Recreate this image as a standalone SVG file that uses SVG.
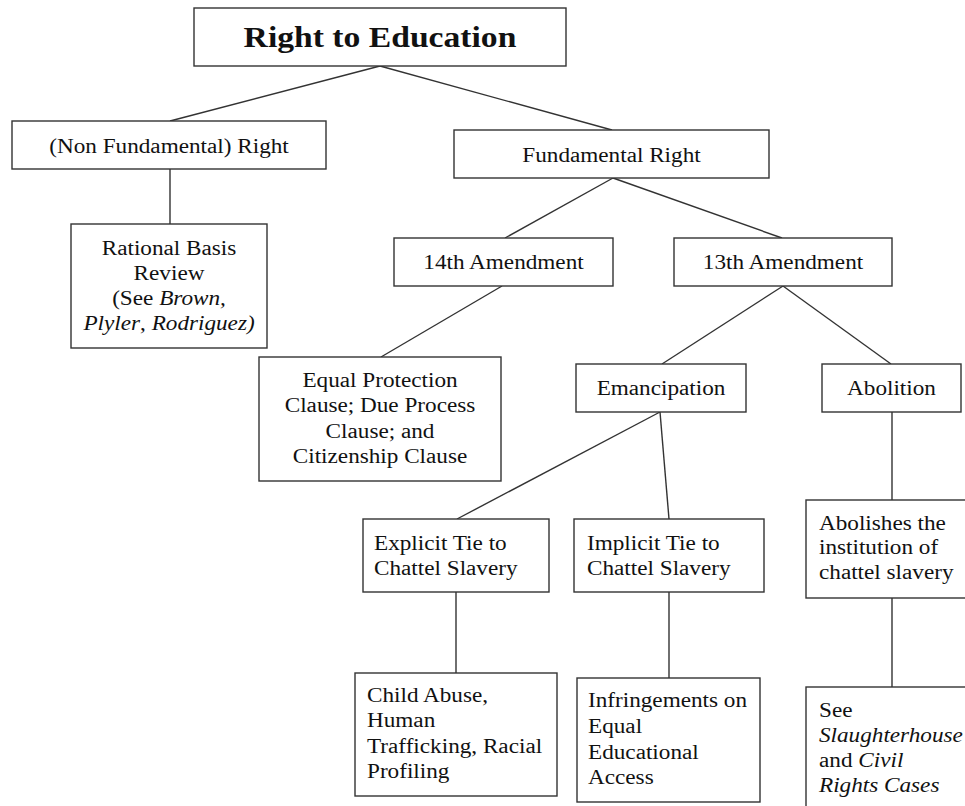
<svg xmlns="http://www.w3.org/2000/svg" width="965" height="806" viewBox="0 0 965 806">
<style>
.box{fill:#fff;stroke:#333;stroke-width:1.4}
.ln{stroke:#333;stroke-width:1.4;fill:none}
text{font-family:"Liberation Serif","Times New Roman",serif;font-size:20px;fill:#111}
.c{text-anchor:middle}
.t{font-size:29px;font-weight:bold}
.i{font-style:italic}
</style>
<rect width="965" height="806" fill="#fff"/>
<g id="connectors">
<line class="ln" x1="380" y1="66" x2="170" y2="121"/>
<line class="ln" x1="380" y1="66" x2="612" y2="130"/>
<line class="ln" x1="170" y1="169" x2="170" y2="224"/>
<line class="ln" x1="613" y1="178" x2="505" y2="238"/>
<line class="ln" x1="613" y1="178" x2="782" y2="238"/>
<line class="ln" x1="502" y1="286" x2="381" y2="357"/>
<line class="ln" x1="783" y1="286" x2="662" y2="364"/>
<line class="ln" x1="783" y1="286" x2="891" y2="364"/>
<line class="ln" x1="660" y1="412" x2="457" y2="519"/>
<line class="ln" x1="660" y1="412" x2="669" y2="519"/>
<line class="ln" x1="892" y1="412" x2="892" y2="500"/>
<line class="ln" x1="456" y1="592" x2="456" y2="673"/>
<line class="ln" x1="669" y1="592" x2="669" y2="678"/>
<line class="ln" x1="892" y1="598" x2="892" y2="687"/>
</g>
<g id="n-root">
<rect class="box" x="194" y="8" width="372" height="58"/>
<text class="c t" transform="translate(380,47) scale(1.16,1)">Right to Education</text>
</g>
<g id="n-nonfund">
<rect class="box" x="12" y="121" width="314" height="48"/>
<text class="c" transform="translate(169,153) scale(1.16,1)">(Non Fundamental) Right</text>
</g>
<g id="n-fund">
<rect class="box" x="454" y="130" width="315" height="48"/>
<text class="c" transform="translate(611.5,162) scale(1.16,1)">Fundamental Right</text>
</g>
<g id="n-rational">
<rect class="box" x="71" y="224" width="196" height="124"/>
<text class="c" transform="translate(169,255) scale(1.16,1)"><tspan x="0" y="0">Rational Basis</tspan><tspan x="0" y="25">Review</tspan><tspan x="0" y="50">(See <tspan class="i">Brown,</tspan></tspan><tspan x="0" y="75"><tspan class="i">Plyler</tspan>, <tspan class="i">Rodriguez)</tspan></tspan></text>
</g>
<g id="n-14th">
<rect class="box" x="394" y="238" width="219" height="48"/>
<text class="c" transform="translate(503.5,269) scale(1.16,1)">14th Amendment</text>
</g>
<g id="n-13th">
<rect class="box" x="674" y="238" width="218" height="48"/>
<text class="c" transform="translate(783,269) scale(1.16,1)">13th Amendment</text>
</g>
<g id="n-equal">
<rect class="box" x="259" y="357" width="242" height="124"/>
<text class="c" transform="translate(380,387) scale(1.16,1)"><tspan x="0" y="0">Equal Protection</tspan><tspan x="0" y="25">Clause; Due Process</tspan><tspan x="0" y="51">Clause; and</tspan><tspan x="0" y="76">Citizenship Clause</tspan></text>
</g>
<g id="n-emancipation">
<rect class="box" x="576" y="364" width="170" height="48"/>
<text class="c" transform="translate(661,395) scale(1.16,1)">Emancipation</text>
</g>
<g id="n-abolition">
<rect class="box" x="822" y="364" width="139" height="48"/>
<text class="c" transform="translate(891.5,395) scale(1.16,1)">Abolition</text>
</g>
<g id="n-explicit">
<rect class="box" x="363" y="519" width="186" height="73"/>
<text transform="translate(374,550) scale(1.16,1)"><tspan x="0" y="0">Explicit Tie to</tspan><tspan x="0" y="25">Chattel Slavery</tspan></text>
</g>
<g id="n-implicit">
<rect class="box" x="574" y="519" width="190" height="73"/>
<text transform="translate(587,550) scale(1.16,1)"><tspan x="0" y="0">Implicit Tie to</tspan><tspan x="0" y="25">Chattel Slavery</tspan></text>
</g>
<g id="n-abolishes">
<rect class="box" x="806" y="500" width="170" height="98"/>
<text transform="translate(819,530) scale(1.16,1)"><tspan x="0" y="0">Abolishes the</tspan><tspan x="0" y="24.5">institution of</tspan><tspan x="0" y="49">chattel slavery</tspan></text>
</g>
<g id="n-child">
<rect class="box" x="355" y="673" width="202" height="123"/>
<text transform="translate(367,702) scale(1.16,1)"><tspan x="0" y="0">Child Abuse,</tspan><tspan x="0" y="25.5">Human</tspan><tspan x="0" y="51">Trafficking, Racial</tspan><tspan x="0" y="76">Profiling</tspan></text>
</g>
<g id="n-infringe">
<rect class="box" x="577" y="678" width="183" height="124"/>
<text transform="translate(588,707) scale(1.16,1)"><tspan x="0" y="0">Infringements on</tspan><tspan x="0" y="26">Equal</tspan><tspan x="0" y="52">Educational</tspan><tspan x="0" y="77">Access</tspan></text>
</g>
<g id="n-see">
<rect class="box" x="806" y="687" width="170" height="130"/>
<text transform="translate(819,717) scale(1.16,1)"><tspan x="0" y="0">See</tspan><tspan x="0" y="25" class="i">Slaughterhouse</tspan><tspan x="0" y="50">and <tspan class="i">Civil</tspan></tspan><tspan x="0" y="75" class="i">Rights Cases</tspan></text>
</g>
</svg>
